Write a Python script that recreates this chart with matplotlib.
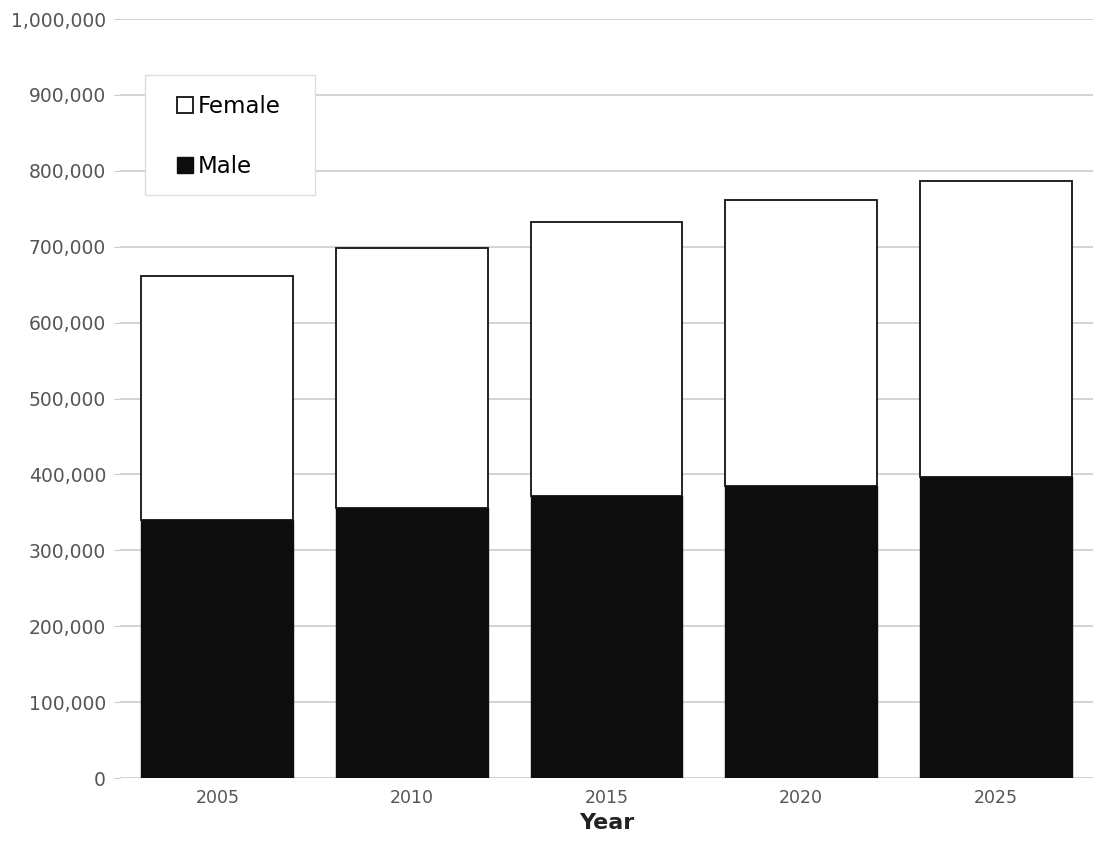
import matplotlib
matplotlib.use("Agg")
import matplotlib.pyplot as plt
from matplotlib.ticker import FuncFormatter
from matplotlib.patches import Rectangle
import numpy as np

years = ["2005", "2010", "2015", "2020", "2025"]
male = [340000, 356000, 372000, 385000, 396000]
female = [321000, 342000, 360000, 377000, 391000]

W, H = 1093, 859
fig = plt.figure(figsize=(W/100, H/100), dpi=100)
ax = fig.add_axes([120/W, 81/H, (W-120)/W, (778-19)/H])

x = np.arange(len(years))
w = 0.78
ax.bar(x, male, w, color="#0d0d0d", edgecolor="#0d0d0d", linewidth=1, label="Male", zorder=3)
ax.bar(x, female, w, bottom=male, color="white", edgecolor="#111111", linewidth=1.3, label="Female", zorder=3)

ax.set_xlim(-0.5, 4.5)
ax.set_ylim(0, 1000000)
ax.set_yticks(np.arange(0, 1000001, 100000))
ax.yaxis.set_major_formatter(FuncFormatter(lambda v, p: f"{int(v):,}"))
ax.set_xticks(x)
ax.set_xticklabels(years)
ax.grid(axis="y", color="#cccccc", linewidth=1.2, zorder=0)
for s in ax.spines.values():
    s.set_visible(False)
ax.tick_params(axis="y", length=4, color="#cccccc", labelsize=13.5, labelcolor="#555555", pad=6)
ax.tick_params(axis="x", length=0, labelsize=12.5, labelcolor="#555555", pad=8)
ax.set_xlabel("Year", fontsize=16, fontweight="bold", color="#222222", labelpad=4)

# legend box
fig.patches.append(Rectangle((145/W, 1 - 195/H), 170/W, 120/H, transform=fig.transFigure,
                             facecolor="white", edgecolor="#dddddd", linewidth=1, zorder=5))
handles, labels = ax.get_legend_handles_labels()
leg = fig.legend(handles[::-1], labels[::-1], loc="upper left",
                 bbox_to_anchor=(177/W, 1 - 95/H), bbox_transform=fig.transFigure,
                 fontsize=16.5, frameon=False,
                 handlelength=0.7, handleheight=0.7, handletextpad=0.2, labelspacing=1.6,
                 borderpad=0, borderaxespad=0)
leg.set_zorder(6)

fig.savefig("out.png", dpi=100)
